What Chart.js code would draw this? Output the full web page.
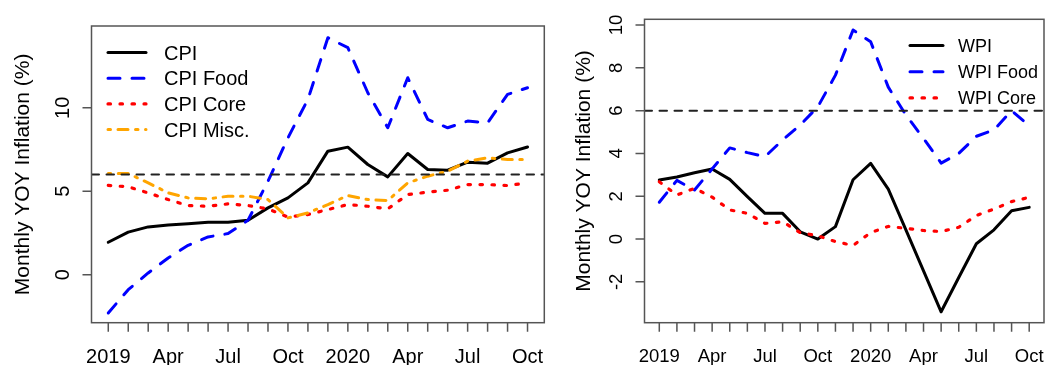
<!DOCTYPE html>
<html>
<head>
<meta charset="utf-8">
<script src="https://cdn.jsdelivr.net/npm/chart.js@4/dist/chart.umd.min.js"></script>
<style>
  body { margin: 0; background: #fff; }
  canvas { position: absolute; top: 0; }
  #cpiChart { left: 0; }
  #wpiChart { left: 560px; }
</style>
</head>
<body>
<canvas id="cpiChart" width="560" height="365"></canvas>
<canvas id="wpiChart" width="485" height="365"></canvas>
<script>
// months Jan 2019 .. Oct 2020, label every quarter
const months = ["2019", "", "", "Apr", "", "", "Jul", "", "", "Oct", "", "",
                "2020", "", "", "Apr", "", "", "Jul", "", "", "Oct"];

const cpi     = [1.94, 2.55, 2.86, 2.98, 3.05, 3.14, 3.14, 3.26, 4.0, 4.6, 5.5, 7.4, 7.64, 6.6, 5.86, 7.26, 6.3, 6.26, 6.74, 6.68, 7.3, 7.65];
const cpiFood = [-2.3, -0.9, 0.1, 1.0, 1.76, 2.26, 2.46, 3.26, 5.6, 8.2, 10.5, 14.2, 13.6, 10.9, 8.8, 11.8, 9.3, 8.8, 9.2, 9.1, 10.8, 11.2];
const cpiCore = [5.35, 5.26, 4.9, 4.5, 4.14, 4.1, 4.24, 4.14, 3.94, 3.45, 3.6, 3.9, 4.2, 4.1, 3.94, 4.8, 4.94, 5.06, 5.4, 5.4, 5.34, 5.5];
const cpiMisc = [6.06, 6.06, 5.5, 4.9, 4.6, 4.54, 4.7, 4.7, 4.5, 3.4, 3.7, 4.2, 4.74, 4.5, 4.44, 5.5, 5.9, 6.2, 6.8, 7.0, 6.9, 6.9];

const wpi     = [2.76, 2.9, 3.1, 3.27, 2.79, 1.98, 1.2, 1.2, 0.34, 0.0, 0.58, 2.77, 3.54, 2.33, 0.43, -1.49, -3.4, -1.8, -0.22, 0.43, 1.32, 1.48];
const wpiFood = [1.72, 2.74, 2.29, 3.28, 4.26, 4.04, 3.85, 4.63, 5.33, 6.18, 7.66, 9.77, 9.22, 7.1, 5.8, 4.7, 3.55, 4.0, 4.8, 5.1, 6.0, 5.3];
const wpiCore = [2.68, 2.06, 2.37, 1.96, 1.36, 1.2, 0.73, 0.81, 0.3, 0.15, -0.12, -0.3, 0.3, 0.59, 0.5, 0.4, 0.35, 0.55, 1.1, 1.4, 1.75, 1.95];

const target = 6;
const cpiTicks = [0, 5, 10];
const wpiTicks = [-2, 0, 2, 4, 6, 8, 10];

const FONT = "'Liberation Sans', Arial, sans-serif";
const X_MIN = -0.84, X_MAX = 21.84;

function pts(values) {
    return values.map((v, i) => ({ x: i, y: v }));
}

function line(label, values, color, width, dash, order) {
    return {
        label, data: pts(values), borderColor: color, borderWidth: width,
        borderDash: dash, borderCapStyle: 'round', borderJoinStyle: 'round',
        pointRadius: 0, fill: false, tension: 0, order
    };
}

function targetLine() {
    return {
        label: '', data: [{ x: X_MIN, y: target }, { x: X_MAX, y: target }],
        borderColor: '#222', borderWidth: 2, borderDash: [7.5, 7.5], borderCapStyle: 'round',
        pointRadius: 0, fill: false, order: 0
    };
}

// box, ticks, labels, title and legend, R style
const framePlugin = {
    id: 'frame',
    afterDatasetsDraw(chart, args, o) {
        const ctx = chart.ctx;
        const a = chart.chartArea;
        const xs = chart.scales.x, ys = chart.scales.y;
        ctx.save();
        ctx.strokeStyle = '#555';
        ctx.lineWidth = 1.5;
        ctx.strokeRect(a.left, a.top, a.right - a.left, a.bottom - a.top);

        ctx.fillStyle = '#000';
        ctx.font = o.tickSize + 'px ' + FONT;
        ctx.textAlign = 'center';
        ctx.textBaseline = 'alphabetic';
        ctx.beginPath();
        months.forEach((m, i) => {
            const px = xs.getPixelForValue(i);
            ctx.moveTo(px, a.bottom);
            ctx.lineTo(px, a.bottom + 9);
            if (m) ctx.fillText(m, px, o.xLabelY);
        });
        o.yTicks.forEach(v => {
            const py = ys.getPixelForValue(v);
            ctx.moveTo(a.left, py);
            ctx.lineTo(a.left - 9, py);
        });
        ctx.stroke();

        o.yTicks.forEach(v => {
            const py = ys.getPixelForValue(v);
            ctx.save();
            ctx.translate(o.yLabelX, py);
            ctx.rotate(-Math.PI / 2);
            ctx.fillText(String(v), 0, 0);
            ctx.restore();
        });

        ctx.save();
        ctx.font = '21px ' + FONT;
        ctx.translate(o.titleX, (a.top + a.bottom) / 2);
        ctx.rotate(-Math.PI / 2);
        ctx.fillText(o.title, 0, 0);
        ctx.restore();

        // legend
        ctx.font = o.legendSize + 'px ' + FONT;
        ctx.textAlign = 'left';
        o.legend.forEach((di, k) => {
            const ds = chart.data.datasets[di];
            const y = o.legendY + k * o.legendStep;
            ctx.save();
            ctx.strokeStyle = ds.borderColor;
            ctx.lineWidth = ds.borderWidth;
            ctx.lineCap = 'round';
            ctx.setLineDash(ds.borderDash);
            ctx.beginPath();
            ctx.moveTo(o.legendX, y);
            ctx.lineTo(o.legendX + o.legendLen, y);
            ctx.stroke();
            ctx.restore();
            ctx.fillText(ds.label, o.legendX + o.legendText, y + o.legendSize * 0.36);
        });
        ctx.restore();
    }
};

function makeChart(id, datasets, yMin, yMax, padding, frame) {
    return new Chart(document.getElementById(id), {
        type: 'line',
        data: { datasets },
        options: {
            responsive: false,
            animation: false,
            events: [],
            layout: { padding },
            scales: {
                x: { type: 'linear', min: X_MIN, max: X_MAX, display: false },
                y: { type: 'linear', min: yMin, max: yMax, display: false }
            },
            plugins: { legend: { display: false }, tooltip: { enabled: false }, frame }
        },
        plugins: [framePlugin]
    });
}

makeChart('cpiChart', [
    line('CPI', cpi, '#000', 3, [], 4),
    line('CPI Food', cpiFood, '#0000ff', 3, [12, 12], 3),
    line('CPI Core', cpiCore, '#ff0000', 3.2, [2.5, 9.5], 2),
    line('CPI Misc.', cpiMisc, '#ffa500', 3, [2.5, 7.5, 10, 7.5], 1),
    targetLine()
], -2.88, 14.9, { left: 91.5, right: 15.7, top: 26, bottom: 42.3 }, {
    yTicks: cpiTicks, xLabelY: 363, yLabelX: 69, titleX: 28.7, tickSize: 20,
    title: 'Monthly YOY Inflation (%)',
    legend: [0, 1, 2, 3], legendX: 108, legendY: 52.5, legendStep: 25.7,
    legendSize: 20, legendLen: 38, legendText: 56
});

makeChart('wpiChart', [
    line('WPI', wpi, '#000', 3, [], 3),
    line('WPI Food', wpiFood, '#0000ff', 3, [12, 12], 2),
    line('WPI Core', wpiCore, '#ff0000', 3.2, [2.5, 9.5], 1),
    targetLine()
], -3.91, 10.27, { left: 84.5, right: 1, top: 19.3, bottom: 42.3 }, {
    yTicks: wpiTicks, xLabelY: 362, yLabelX: 62, titleX: 30, tickSize: 18.5,
    title: 'Monthly YOY Inflation (%)',
    legend: [0, 1, 2], legendX: 350, legendY: 45.5, legendStep: 26.2,
    legendSize: 18, legendLen: 33, legendText: 48
});
</script>
</body>
</html>
